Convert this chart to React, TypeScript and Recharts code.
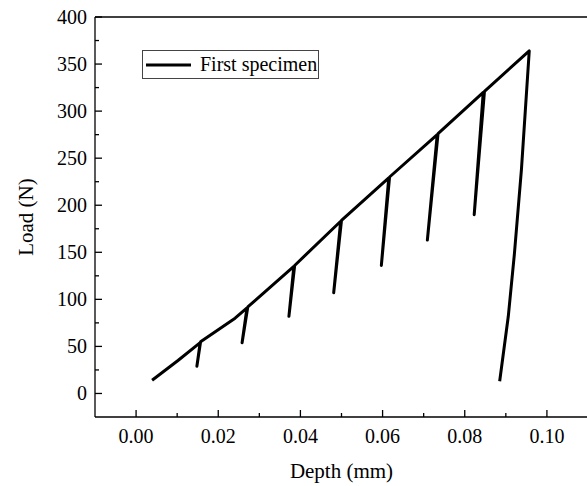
import { LineChart, Line, XAxis, YAxis, Legend, ReferenceLine } from "recharts";

// load-unload path in drawing order
const depth = [
  0.0039, 0.0102, 0.0156, 0.0148, 0.0157, 0.0241, 0.027, 0.0258, 0.0272,
  0.0384, 0.0372, 0.0386, 0.0498, 0.0481, 0.05, 0.0615, 0.0597, 0.0617,
  0.0733, 0.0709, 0.0735, 0.0845, 0.0823, 0.0848, 0.0957, 0.0938, 0.0921,
  0.0906, 0.0885,
];
const load = [
  14, 35, 54, 29, 55, 80, 91, 54, 92, 135, 82, 136, 183, 107, 184, 229, 136,
  230, 275, 163, 276, 320, 190, 321, 364, 238, 149, 82, 13,
];

const xMajor = [0, 0.02, 0.04, 0.06, 0.08, 0.1];
const xMinor = [0.01, 0.03, 0.05, 0.07, 0.09];
const yMajor = [0, 50, 100, 150, 200, 250, 300, 350, 400];
const yMinor = [25, 75, 125, 175, 225, 275, 325, 375];

const seriesName = "First specimen";
const xTitle = "Depth (mm)";
const yTitle = "Load (N)";

const data = depth.map((d, i) => ({ depth: d, load: load[i] }));

const font = "Liberation Serif";

const isIn = (arr: number[], v: number) => arr.some((m) => Math.abs(m - v) < 1e-9);

const XTick = (props: any) => {
  const { x, y, payload } = props;
  const major = isIn(xMajor, payload.value);
  return (
    <g>
      <line x1={x} x2={x} y1={y} y2={y - (major ? 7 : 4)} stroke="#000" strokeWidth={1.3} />
      {major && (
        <text x={x} y={y + 26} textAnchor="middle" style={{ fontFamily: font }} fontSize={20} fill="#000">
          {payload.value.toFixed(2)}
        </text>
      )}
    </g>
  );
};

const YTick = (props: any) => {
  const { x, y, payload } = props;
  const major = isIn(yMajor, payload.value);
  return (
    <g>
      <line x1={x} x2={x + (major ? 7 : 4)} y1={y} y2={y} stroke="#000" strokeWidth={1.3} />
      {major && (
        <text x={x - 8} y={y} dy={6.5} textAnchor="end" style={{ fontFamily: font }} fontSize={20} fill="#000">
          {payload.value}
        </text>
      )}
    </g>
  );
};

const LegendBox = () => (
  <div
    style={{
      width: 177,
      height: 29,
      boxSizing: "border-box",
      border: "1px solid #444",
      background: "#fff",
      display: "flex",
      alignItems: "center",
      whiteSpace: "nowrap",
      fontFamily: font,
      fontSize: 20,
      color: "#000",
    }}
  >
    <svg width={50} height={10} style={{ marginLeft: 3, marginRight: 4 }}>
      <line x1={0} x2={45} y1={5} y2={5} stroke="#000" strokeWidth={3} />
    </svg>
    <span>{seriesName}</span>
  </div>
);

export default function App() {
  return (
    <div
      style={{
        position: "absolute",
        left: 0,
        top: 0,
        width: 587,
        height: 486,
        overflow: "hidden",
        background: "#fff",
      }}
    >
      <LineChart
        width={590}
        height={486}
        data={data}
        margin={{ top: 17, right: 2, left: 35, bottom: 29 }}
      >
        <XAxis
          type="number"
          dataKey="depth"
          domain={[-0.01, 0.11]}
          ticks={[...xMajor, ...xMinor]}
          interval={0}
          allowDataOverflow
          height={40}
          tickSize={0}
          tickMargin={0}
          tickLine={false}
          tick={XTick}
          axisLine={{ stroke: "#000", strokeWidth: 1.3 }}
          label={(p: any) => (
            <text
              x={p.viewBox.x + p.viewBox.width / 2}
              y={p.viewBox.y + 61}
              textAnchor="middle"
              style={{ fontFamily: font }}
              fontSize={21}
              fill="#000"
            >
              {xTitle}
            </text>
          )}
        />
        <YAxis
          type="number"
          domain={[-25, 400]}
          ticks={[...yMajor, ...yMinor]}
          interval={0}
          allowDataOverflow
          width={60}
          tickSize={0}
          tickMargin={0}
          tickLine={false}
          tick={YTick}
          axisLine={{ stroke: "#000", strokeWidth: 1.3 }}
          label={(p: any) => {
            const cx = p.viewBox.x - 2;
            const cy = p.viewBox.y + p.viewBox.height / 2;
            return (
              <text
                x={cx}
                y={cy}
                transform={`rotate(-90, ${cx}, ${cy})`}
                textAnchor="middle"
                style={{ fontFamily: font }}
                fontSize={21}
                fill="#000"
              >
                {yTitle}
              </text>
            );
          }}
        />
        <ReferenceLine y={400} stroke="#000" strokeWidth={1.3} />
        <ReferenceLine x={0.11} stroke="#000" strokeWidth={1.3} />
        <Legend
          verticalAlign="middle"
          align="center"
          wrapperStyle={{ left: 142, top: 50, width: 177, height: 29 }}
          content={LegendBox}
        />
        <Line
          type="linear"
          dataKey="load"
          name={seriesName}
          stroke="#000"
          strokeWidth={3}
          strokeLinejoin="round"
          dot={false}
          isAnimationActive={false}
        />
      </LineChart>
    </div>
  );
}
